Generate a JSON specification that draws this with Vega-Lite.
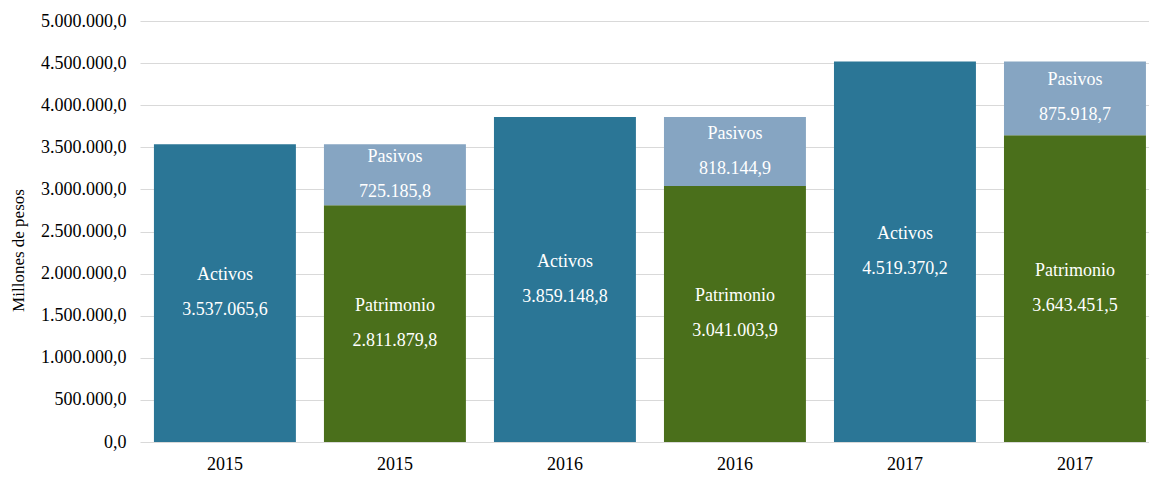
{
  "$schema": "https://vega.github.io/schema/vega-lite/v6.json",
  "autosize": {"type": "none"},
  "width": 1009,
  "height": 421,
  "padding": {"left": 140, "top": 21, "right": 0, "bottom": 37},
  "background": "white",
  "config": {
    "view": {"stroke": null},
    "font": "'Times New Roman', 'Liberation Serif', serif",
    "locale": {"number": {"decimal": ",", "thousands": ".", "grouping": [3], "currency": ["$", ""]}}
  },
  "data": {
    "values": [
      {"pos": "2015-a", "cat": "Activos", "value": 3537065.6},
      {"pos": "2015-b", "cat": "Patrimonio", "value": 2811879.8},
      {"pos": "2015-b", "cat": "Pasivos", "value": 725185.8},
      {"pos": "2016-a", "cat": "Activos", "value": 3859148.8},
      {"pos": "2016-b", "cat": "Patrimonio", "value": 3041003.9},
      {"pos": "2016-b", "cat": "Pasivos", "value": 818144.9},
      {"pos": "2017-a", "cat": "Activos", "value": 4519370.2},
      {"pos": "2017-b", "cat": "Patrimonio", "value": 3643451.5},
      {"pos": "2017-b", "cat": "Pasivos", "value": 875918.7}
    ]
  },
  "transform": [
    {"calculate": "indexof(['Patrimonio','Pasivos','Activos'], datum.cat)", "as": "ord"},
    {"stack": "value", "groupby": ["pos"], "sort": [{"field": "ord", "order": "ascending"}], "as": ["v0", "v1"]},
    {"calculate": "(datum.v0 + datum.v1) / 2", "as": "mid"}
  ],
  "encoding": {
    "x": {
      "field": "pos",
      "type": "nominal",
      "sort": null,
      "scale": {"paddingInner": 0.165, "paddingOuter": 0.05, "align": 0.82},
      "axis": {
        "title": null,
        "labelExpr": "substring(datum.label, 0, 4)",
        "labelAngle": 0,
        "labelFont": "'Times New Roman', 'Liberation Serif', serif",
        "labelFontSize": 18,
        "labelColor": "#000000",
        "labelPadding": 13,
        "ticks": false,
        "domain": false,
        "grid": false
      }
    }
  },
  "layer": [
    {
      "mark": {"type": "bar"},
      "encoding": {
        "y": {
          "field": "v0",
          "type": "quantitative",
          "scale": {"domain": [0, 5000000], "nice": false},
          "axis": {
            "title": "Millones de pesos",
            "titleFont": "'Times New Roman', 'Liberation Serif', serif",
            "titleFontSize": 17,
            "titleFontWeight": "normal",
            "titleColor": "#000000",
            "titleX": -122,
            "titleY": 229,
            "titleAngle": -90,
            "titleBaseline": "middle",
            "titleAlign": "center",
            "values": [0, 500000, 1000000, 1500000, 2000000, 2500000, 3000000, 3500000, 4000000, 4500000, 5000000],
            "format": ",.1f",
            "labelFont": "'Times New Roman', 'Liberation Serif', serif",
            "labelFontSize": 18,
            "labelColor": "#000000",
            "labelPadding": 14,
            "ticks": false,
            "domain": false,
            "grid": true,
            "gridColor": "#d9d9d9",
            "gridWidth": 1
          }
        },
        "y2": {"field": "v1"},
        "color": {
          "field": "cat",
          "type": "nominal",
          "scale": {"domain": ["Activos", "Pasivos", "Patrimonio"], "range": ["#2B7696", "#86A5C2", "#4A6F1B"]},
          "legend": null
        }
      }
    },
    {
      "mark": {"type": "text", "color": "white", "fontSize": 18, "font": "'Times New Roman', 'Liberation Serif', serif", "dy": -18, "baseline": "middle"},
      "encoding": {
        "y": {"field": "mid", "type": "quantitative"},
        "text": {"field": "cat", "type": "nominal"}
      }
    },
    {
      "mark": {"type": "text", "color": "white", "fontSize": 18, "font": "'Times New Roman', 'Liberation Serif', serif", "dy": 17, "baseline": "middle"},
      "encoding": {
        "y": {"field": "mid", "type": "quantitative"},
        "text": {"field": "value", "type": "quantitative", "format": ",.1f"}
      }
    }
  ]
}
